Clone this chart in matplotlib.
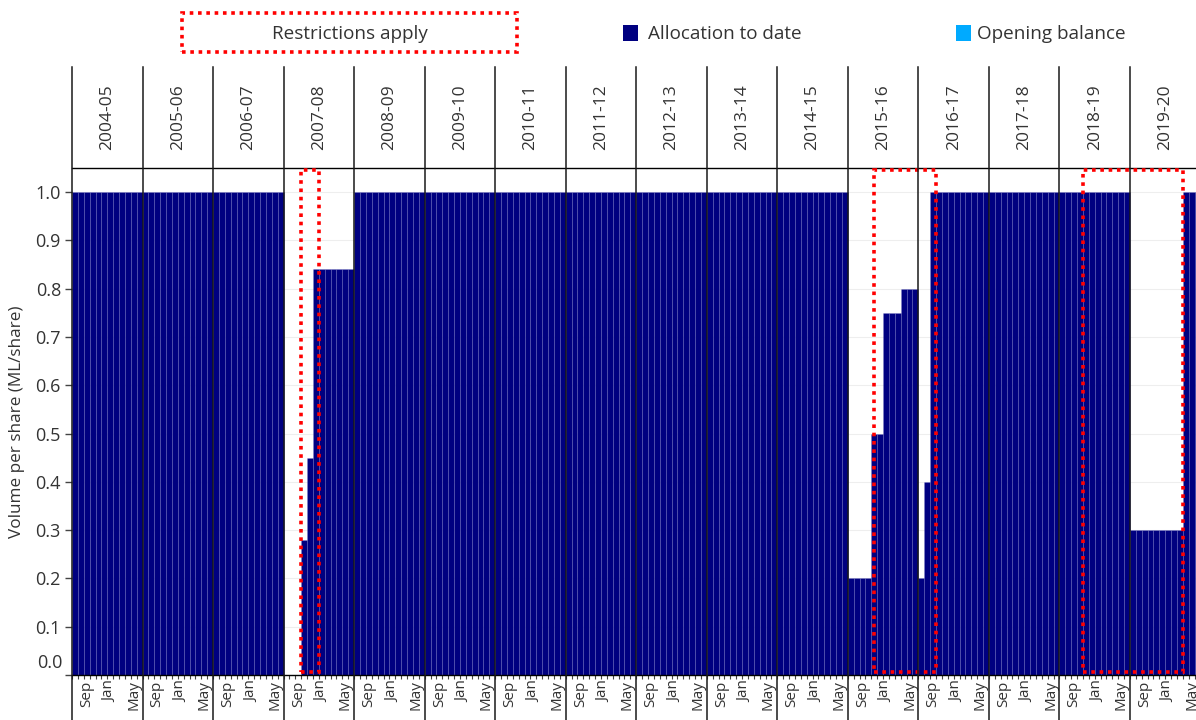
import matplotlib
matplotlib.use("Agg")
import matplotlib.pyplot as plt
import matplotlib.transforms as mtransforms
from matplotlib.patches import Rectangle
import numpy as np

plt.rcParams['font.family'] = ['Open Sans', 'DejaVu Sans']

# ---------------- data ----------------
water_years = ["2004-05", "2005-06", "2006-07", "2007-08", "2008-09", "2009-10",
               "2010-11", "2011-12", "2012-13", "2013-14", "2014-15", "2015-16",
               "2016-17", "2017-18", "2018-19", "2019-20"]
months = ["Jul", "Aug", "Sep", "Oct", "Nov", "Dec",
          "Jan", "Feb", "Mar", "Apr", "May", "Jun"]
labelled_months = ["Sep", "Jan", "May"]

full = [1.0] * 12
alloc_2007_08 = [0.0, 0.0, 0.0, 0.28, 0.45, 0.84, 0.84, 0.84, 0.84, 0.84, 0.84, 0.84]
alloc_2015_16 = [0.2, 0.2, 0.2, 0.2, 0.5, 0.5, 0.75, 0.75, 0.75, 0.8, 0.8, 0.8]
alloc_2016_17 = [0.2, 0.4, 1.0, 1.0, 1.0, 1.0, 1.0, 1.0, 1.0, 1.0, 1.0, 1.0]
alloc_2019_20 = [0.3, 0.3, 0.3, 0.3, 0.3, 0.3, 0.3, 0.3, 0.3, 1.0, 1.0, 1.0]

allocation = {
    "2004-05": full, "2005-06": full, "2006-07": full, "2007-08": alloc_2007_08,
    "2008-09": full, "2009-10": full, "2010-11": full, "2011-12": full,
    "2012-13": full, "2013-14": full, "2014-15": full, "2015-16": alloc_2015_16,
    "2016-17": alloc_2016_17, "2017-18": full, "2018-19": full, "2019-20": alloc_2019_20,
}

# restriction periods: (year, month) start and end (end exclusive)
restriction_starts = [(2007, 10.0), (2015, 11.5), (2018, 11.0)]
restriction_ends = [(2008, 1.0), (2016, 10.0), (2020, 4.0)]

# ---------------- helpers ----------------
def month_index(year, month):
    # months since July 2004
    return (year - 2004) * 12 + (month - 7)

values = []
for wy in water_years:
    values.extend(allocation[wy])
values = np.array(values)
n = len(values)
x = np.arange(n) + 0.5

W, H = 1196, 720
fig = plt.figure(figsize=(W / 100, H / 100), dpi=100)
ax_left, ax_right, ax_top, ax_bottom = 72, 1200.5, 168, 675
ax = fig.add_axes([ax_left / W, 1 - ax_bottom / H, (ax_right - ax_left) / W,
                   (ax_bottom - ax_top) / H])

navy = "#000080"
light_blue = "#00AAFF"
txt_color = "#333333"

ax.bar(x, values, width=1.0, color=navy, edgecolor=(0.55, 0.55, 0.85, 0.3),
       linewidth=0.4, zorder=2)

ax.set_xlim(0, n)
ax.set_ylim(0, 1.05)

# grid
ax.set_axisbelow(True)
ax.yaxis.grid(True, color="#eeeeee", linewidth=0.8, zorder=0)

# spines
ax.spines["right"].set_visible(False)
ax.spines["left"].set_visible(False)
ax.spines["top"].set_color("#000000")
ax.spines["top"].set_linewidth(1.0)
ax.spines["bottom"].set_color("#000000")
ax.spines["bottom"].set_linewidth(1.0)

# y ticks
yt = np.round(np.arange(0, 1.01, 0.1), 1)
ax.set_yticks(yt)
ax.set_yticklabels([""] + [f"{v:.1f}" for v in yt[1:]])
ax.tick_params(axis="y", length=5, width=1, color="#444444", labelsize=13,
               labelcolor=txt_color, pad=3)
ax.text(-0.0085, 0.025, "0.0",
        transform=mtransforms.blended_transform_factory(ax.transAxes, ax.transData),
        ha="right", va="center", fontsize=13, color=txt_color)
ax.set_ylabel("Volume per share (ML/share)", fontsize=12.3, color=txt_color)
ax.yaxis.set_label_coords(-47 / (ax_right - ax_left), 0.5)

# x ticks: month labels
label_pos = []
label_txt = []
for i, wy in enumerate(water_years):
    for j, m in enumerate(months):
        if m in labelled_months:
            label_pos.append(i * 12 + j + 0.5)
            label_txt.append(m)
ax.set_xticks(label_pos)
ax.set_xticklabels(label_txt, rotation=90, fontsize=11, color=txt_color)
ax.tick_params(axis="x", length=0, pad=4)
ax.set_xticks(np.arange(0, n + 1), minor=True)
ax.tick_params(axis="x", which="minor", length=3, width=0.8, color="#444444")

# year separator lines and header labels
blend = mtransforms.blended_transform_factory(ax.transData, fig.transFigure)
for i in range(len(water_years) + 1):
    ax.plot([i * 12, i * 12], [0, 1 - 67 / H], transform=blend, color="#1a1a1a",
            linewidth=1.1, clip_on=False, zorder=5)
for i, wy in enumerate(water_years):
    ax.text(i * 12 + 6, 1 - 117 / H, wy, transform=blend, rotation=90,
            ha="center", va="center", fontsize=12.5, color=txt_color)

# restriction boxes
for (sy, sm), (ey, em) in zip(restriction_starts, restriction_ends):
    x0 = month_index(sy, sm)
    x1 = month_index(ey, em)
    r = Rectangle((x0, 0.007), x1 - x0, 1.045 - 0.007, fill=False, edgecolor="#ff0000",
                  linewidth=2.6, linestyle=(0, (1, 1.3)), zorder=4, clip_on=False)
    ax.add_patch(r)

# legend
fig.patches.append(Rectangle((182 / W, 1 - 52 / H), 335 / W, 39 / H, fill=False,
                             edgecolor="#ff0000", linewidth=2.6, linestyle=(0, (1, 1.3)),
                             transform=fig.transFigure, figure=fig))
fig.text(350 / W, 1 - 34 / H, "Restrictions apply", ha="center", va="center",
         fontsize=13.6, color=txt_color)
fig.patches.append(Rectangle((623 / W, 1 - 41 / H), 15 / W, 16 / H, facecolor=navy,
                             edgecolor="none", transform=fig.transFigure, figure=fig))
fig.text(648 / W, 1 - 34 / H, "Allocation to date", ha="left", va="center",
         fontsize=13.6, color=txt_color)
fig.patches.append(Rectangle((956 / W, 1 - 41 / H), 15 / W, 16 / H, facecolor=light_blue,
                             edgecolor="none", transform=fig.transFigure, figure=fig))
fig.text(977 / W, 1 - 34 / H, "Opening balance", ha="left", va="center",
         fontsize=13.6, color=txt_color)

fig.savefig("out.png", dpi=100)
